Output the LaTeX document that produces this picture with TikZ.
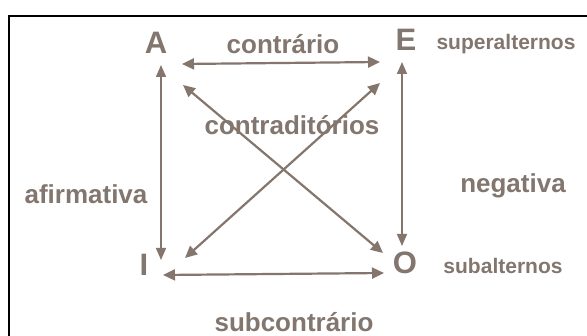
\documentclass[tikz,border=0pt]{standalone}
\usepackage{fontspec}
\setmainfont{Liberation Sans}
\usetikzlibrary{arrows.meta}
\definecolor{ink}{RGB}{130,118,110}
\definecolor{arr}{RGB}{132,118,108}
\begin{document}
\begin{tikzpicture}[x=1pt,y=-1pt,
  big/.style={text=ink,font=\fontsize{31}{31}\selectfont\bfseries,inner sep=0pt},
  lab/.style={text=ink,font=\fontsize{26}{26}\selectfont\bfseries,inner sep=0pt},
  small/.style={text=ink,font=\fontsize{21}{21}\selectfont\bfseries,inner sep=0pt},
  link/.style={draw=arr,line width=2.2pt,{Triangle[length=12pt,width=11pt]}-{Triangle[length=12pt,width=11pt]}},
  thin/.style={draw=arr,line width=1.5pt,{Triangle[length=12pt,width=10pt]}-{Triangle[length=12pt,width=10pt]}}]
\useasboundingbox (0,0) rectangle (587,336);
\fill[white] (0,0) rectangle (587,336);
\draw[line width=1.6pt,black] (9,336) -- (9,16) -- (587,16);
% letters
\node[big] (A) at (156,43) {A};
\node[big] (E) at (406,40) {E};
\node[big] (I) at (144,265) {I};
\node[big] (O) at (405,263) {O};
% labels
\node[lab] (contrario) at (283,44) {contrário};
\node[lab] (contra) at (292,125) {contraditórios};
\node[lab] (afirm) at (86,194) {afirmativa};
\node[lab] (neg) at (513,186) {negativa};
\node[lab] (subc) at (294,322) {subcontrário};
\node[small] (super) at (506,44) {superalternos};
\node[small] (sub) at (503,266) {subalternos};
% arrow end points
\coordinate (a1) at (182,64);
\coordinate (e1) at (380,62);
\coordinate (a2) at (161,65);
\coordinate (i2) at (161,260);
\coordinate (e2) at (402,62);
\coordinate (o2) at (402,246);
\coordinate (i3) at (163,275);
\coordinate (o3) at (384,273);
\coordinate (a4) at (183,85);
\coordinate (o4) at (383,253);
\coordinate (e4) at (380,83);
\coordinate (i4) at (185,258);
\draw[link] (a1) -- (e1);
\draw[thin] (a2) -- (i2);
\draw[thin] (e2) -- (o2);
\draw[link] (i3) -- (o3);
\draw[link] (a4) -- (o4);
\draw[link] (e4) -- (i4);
\end{tikzpicture}
\end{document}
